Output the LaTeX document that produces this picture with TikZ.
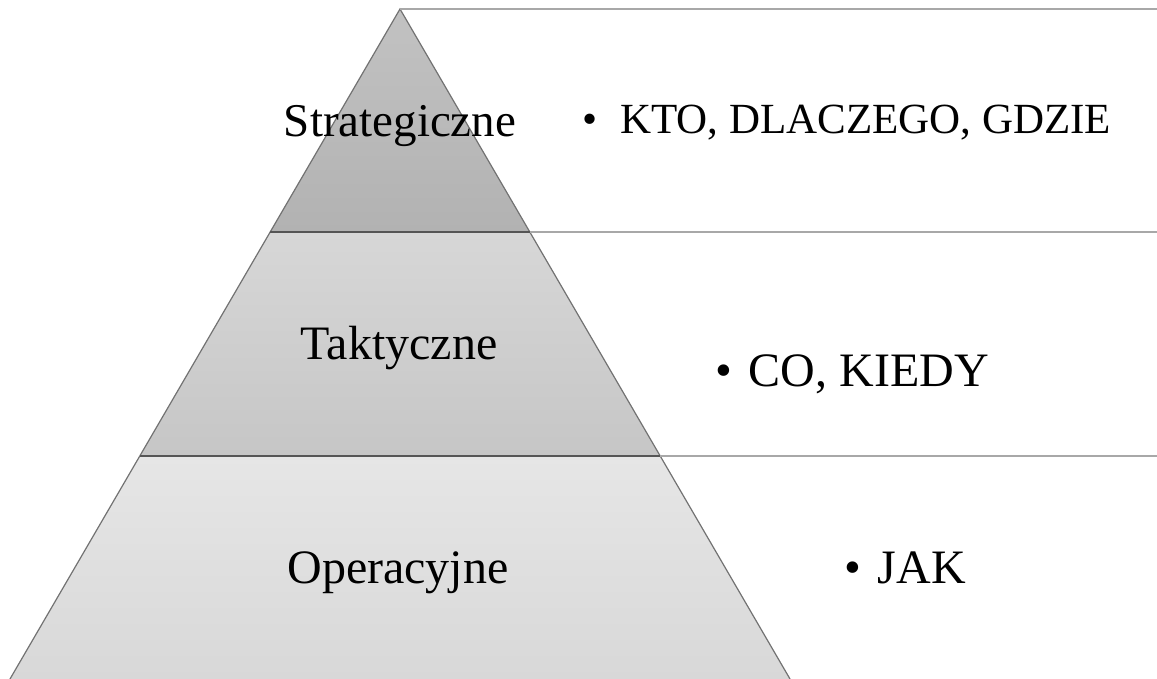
\documentclass[tikz,border=0pt]{standalone}
\usepackage{fontspec}
\setmainfont{Liberation Serif}
\definecolor{edgegray}{HTML}{727272}
\definecolor{sepgray}{HTML}{555555}
\definecolor{rulegray}{HTML}{A8A8A8}
\definecolor{stratTop}{HTML}{C2C2C2}
\definecolor{stratBot}{HTML}{B2B2B2}
\definecolor{taktTop}{HTML}{D7D7D7}
\definecolor{taktBot}{HTML}{C6C6C6}
\definecolor{operTop}{HTML}{E6E6E6}
\definecolor{operBot}{HTML}{D8D8D8}
\tikzset{
  tierlabel/.style={inner sep=0pt, anchor=base, font=\fontsize{48}{58}\selectfont},
  bulletlabel/.style={inner sep=0pt, anchor=base west, font=\fontsize{48}{58}\selectfont},
}
\begin{document}
\begin{tikzpicture}[x=1pt,y=1pt]
\useasboundingbox (0,0) rectangle (1157,679);
% pyramid corners
\coordinate (apex) at (400,670);
\coordinate (sl) at (270,447);
\coordinate (sr) at (530,447);
\coordinate (tl) at (140,223);
\coordinate (tr) at (660,223);
\coordinate (ol) at (10,0);
\coordinate (or) at (790,0);
% tiers
\shade[top color=stratTop, bottom color=stratBot] (apex) -- (sr) -- (sl) -- cycle;
\shade[top color=taktTop, bottom color=taktBot] (sl) -- (sr) -- (tr) -- (tl) -- cycle;
\shade[top color=operTop, bottom color=operBot] (tl) -- (tr) -- (or) -- (ol) -- cycle;
\draw[color=edgegray, line width=1.2pt] (ol) -- (apex) -- (or);
\draw[color=sepgray, line width=1.6pt] (sl) -- (sr);
\draw[color=sepgray, line width=1.6pt] (tl) -- (tr);
% rules to the right
\foreach \p in {apex,sr,tr}
\draw[color=rulegray, line width=1.6pt] (\p) -- (\p -| 1157,0);
% labels
\node[tierlabel, font=\fontsize{47}{56}\selectfont] (strat) at (400,542) {Strategiczne};
\node[tierlabel] (takt) at (399,319) {Taktyczne};
\node[tierlabel] (oper) at (398,95) {Operacyjne};
\node[bulletlabel, font=\fontsize{43}{52}\selectfont] (kto) at (582,545) {•\hspace{0.53em}KTO, DLACZEGO, GDZIE};
\node[bulletlabel] (co) at (715,292) {•\hspace{0.35em}CO, KIEDY};
\node[bulletlabel] (jak) at (844,95) {•\hspace{0.35em}JAK};
\end{tikzpicture}
\end{document}
